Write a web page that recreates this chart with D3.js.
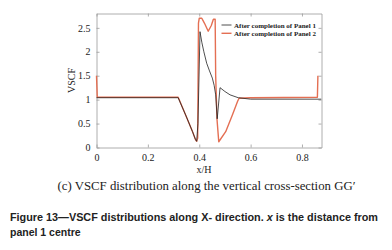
<!DOCTYPE html>
<html>
<head>
<meta charset="utf-8">
<script src="https://cdn.jsdelivr.net/npm/d3@7"></script>
<style>
  body { margin: 0; background: #fff; }
  svg { display: block; }
</style>
</head>
<body>
<div id="chart"></div>
<script>
/* VSCF distribution along the vertical cross-section GG' */

// Panel 1 (black)
const xH1 = [0, 0.318, 0.347, 0.374, 0.385, 0.39, 0.395, 0.403, 0.41, 0.418, 0.429, 0.44, 0.451,
             0.458, 0.464, 0.47, 0.481, 0.5, 0.52, 0.552, 0.6, 0.875];
const vscf1 = [1.04, 1.04, 0.68, 0.33, 0.17, 0.13, 0.5, 2.42, 2.2, 2.0, 1.76, 1.6, 1.45,
               1.3, 1.1, 0.6, 1.25, 1.17, 1.1, 1.04, 1.01, 1.01];

// Panel 2 (red)
const xH2 = [0, 0.003, 0.318, 0.347, 0.374, 0.385, 0.39, 0.394, 0.397, 0.4, 0.41, 0.42, 0.435,
             0.447, 0.455, 0.462, 0.464, 0.469, 0.476, 0.503, 0.529, 0.549, 0.555, 0.6, 0.86, 0.862];
const vscf2 = [1.5, 1.05, 1.05, 0.68, 0.33, 0.17, 0.13, 0.2, 2.6, 2.7, 2.7, 2.6, 2.43,
               2.55, 2.68, 2.68, 1.5, 0.6, 0.12, 0.33, 0.68, 0.96, 1.03, 1.04, 1.05, 1.5];

const xTicks = [0, 0.2, 0.4, 0.6, 0.8];
const yTicks = [0, 0.5, 1, 1.5, 2, 2.5];
const seriesNames = ["After completion of Panel 1", "After completion of Panel 2"];
const colors = ["#222222", "#e46f53"];

const width = 392,
      height = 250,
      margin = ({ top: 13.5, right: 70.5, bottom: 102.5, left: 96.5 });

const serif = "'Liberation Serif', 'Times New Roman', serif";

let svg = d3.select("#chart")
    .append("svg")
    .attr("width", width)
    .attr("height", height)
    .attr("viewBox", [0, 0, width, height]);

const x = d3.scaleLinear()
    .domain([0, 0.876])
    .range([margin.left, width - margin.right]);

const y = d3.scaleLinear()
    .domain([0, 2.8])
    .range([height - margin.bottom, margin.top]);

const styleAxis = g => {
    g.select(".domain").attr("stroke", "#9a9a9a").attr("stroke-width", 0.8);
    g.selectAll(".tick line").attr("stroke", "#9a9a9a").attr("stroke-width", 0.8);
    g.selectAll(".tick text")
        .attr("fill", "#222")
        .style("font-family", serif)
        .style("font-size", "10px");
};

// bottom + left with labels, top + right box with inward ticks
svg.append("g")
    .attr("transform", `translate(0, ${height - margin.bottom})`)
    .call(d3.axisBottom(x).tickValues(xTicks).tickSizeInner(-3).tickSizeOuter(0)
          .tickPadding(6).tickFormat(d => d))
    .call(styleAxis);

svg.append("g")
    .attr("transform", `translate(${margin.left}, 0)`)
    .call(d3.axisLeft(y).tickValues(yTicks).tickSizeInner(-3).tickSizeOuter(0)
          .tickPadding(6).tickFormat(d => d))
    .call(styleAxis);

svg.append("g")
    .attr("transform", `translate(0, ${margin.top})`)
    .call(d3.axisTop(x).tickValues(xTicks).tickSizeInner(-3).tickSizeOuter(0).tickFormat(""))
    .call(styleAxis);

svg.append("g")
    .attr("transform", `translate(${width - margin.right}, 0)`)
    .call(d3.axisRight(y).tickValues(yTicks).tickSizeInner(-3).tickSizeOuter(0).tickFormat(""))
    .call(styleAxis);

const line = d3.line()
    .x(d => x(d[0]))
    .y(d => y(d[1]));

// red first, black on top
svg.append("path")
    .datum(d3.zip(xH2, vscf2))
    .attr("fill", "none")
    .attr("stroke", colors[1])
    .attr("stroke-width", 1.4)
    .attr("stroke-linejoin", "round")
    .attr("d", line);

svg.append("path")
    .datum(d3.zip(xH1, vscf1))
    .attr("fill", "none")
    .attr("stroke", colors[0])
    .attr("stroke-width", 0.8)
    .attr("stroke-linejoin", "round")
    .attr("d", line);

// axis titles
svg.append("text")
    .attr("x", x(0.876 / 2) - 5)
    .attr("y", 173)
    .attr("text-anchor", "middle")
    .style("font-family", serif)
    .style("font-size", "10px")
    .attr("fill", "#222")
    .text("x/H");

svg.append("text")
    .attr("transform", `translate(75, ${(margin.top + height - margin.bottom) / 2}) rotate(-90)`)
    .attr("text-anchor", "middle")
    .style("font-family", serif)
    .style("font-size", "10px")
    .attr("fill", "#222")
    .text("VSCF");

// legend
let legend = svg.selectAll(".legend")
    .data(seriesNames)
    .join("g")
    .attr("class", "legend")
    .attr("transform", (d, i) => `translate(221.5, ${25 + i * 8.3})`);

legend.append("line")
    .attr("x1", 0).attr("x2", 10)
    .attr("stroke", (d, i) => colors[i])
    .attr("stroke-width", (d, i) => i ? 1.4 : 0.8);

legend.append("text")
    .attr("x", 12.5)
    .attr("y", 2.5)
    .style("font-family", serif)
    .style("font-size", "7px")
    .style("font-weight", "bold")
    .attr("fill", "#222")
    .text(d => d);

// captions
svg.append("text")
    .attr("x", 206.5)
    .attr("y", 190)
    .attr("text-anchor", "middle")
    .style("font-family", serif)
    .style("font-size", "12.8px")
    .attr("fill", "#222")
    .text("(c) VSCF distribution along the vertical cross-section GG\u2032");

const cap = svg.append("text")
    .style("font-family", "'Liberation Sans', Arial, sans-serif")
    .style("font-size", "10.5px")
    .style("font-weight", "bold")
    .attr("fill", "#222");

cap.append("tspan")
    .attr("x", 10).attr("y", 221)
    .attr("textLength", 368).attr("lengthAdjust", "spacingAndGlyphs")
    .html("Figure 13\u2014VSCF distributions along X- direction. <tspan font-style='italic'>x</tspan> is the distance from");

cap.append("tspan")
    .attr("x", 10).attr("y", 235.5)
    .text("panel 1 centre");
</script>
</body>
</html>
